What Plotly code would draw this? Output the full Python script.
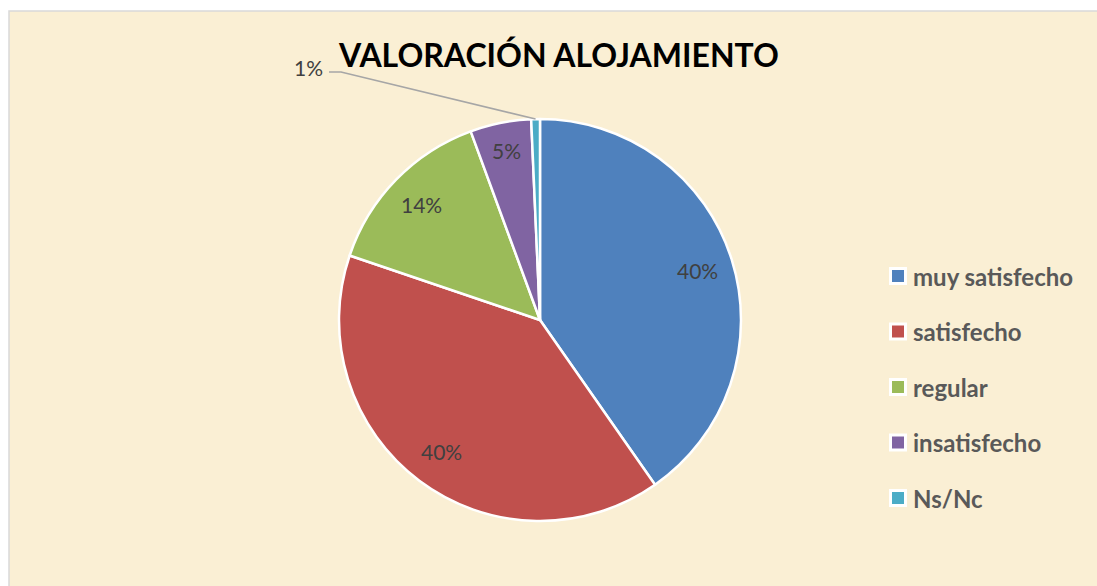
import math
import plotly.graph_objects as go

# ---- data ----
categories = ["muy satisfecho", "satisfecho", "regular", "insatisfecho", "Ns/Nc"]
values = [40.3, 39.9, 14.2, 4.9, 0.7]
colors = ["#4F81BD", "#C0504D", "#9BBB59", "#8064A2", "#4BACC6"]
title_text = "VALORACIÓN ALOJAMIENTO"

W, H = 1097, 586
CX, CY, R = 540, 320, 201  # pie centre / radius in px


def px(x):
    return x / W


def py(y):
    return 1 - y / H


total = sum(values)
pct_labels = [f"{round(v / total * 100)}%" for v in values]

fig = go.Figure()
fig.add_trace(go.Pie(
    labels=categories,
    values=values,
    sort=False,
    direction="clockwise",
    rotation=0,
    marker=dict(colors=colors, line=dict(color="white", width=2.5)),
    textinfo="none",
    hoverinfo="label+percent",
    showlegend=False,
    domain=dict(x=[px(CX - R), px(CX + R)], y=[py(CY + R), py(CY - R)]),
))

annotations = []
shapes = []

# background panel
shapes.append(dict(type="rect", xref="paper", yref="paper",
                   x0=px(9), x1=px(W + 5), y0=py(H + 5), y1=py(11),
                   fillcolor="#FAEFD4", line=dict(color="#D9D9D9", width=1.5),
                   layer="below"))

# title
annotations.append(dict(text=f"<b>{title_text}</b>", x=px(558), y=py(55),
                        xref="paper", yref="paper", showarrow=False,
                        xanchor="center", yanchor="middle",
                        font=dict(family="Lato", size=32, color="#000000")))

# percentage labels
cum = 0.0
for i, v in enumerate(values):
    mid = (cum + v / 2) / total * 2 * math.pi
    cum += v
    if i == len(values) - 1:
        # outside label with leader line
        ex = CX + R * math.sin(mid)
        ey = CY - R * math.cos(mid)
        shapes.append(dict(type="path", xref="paper", yref="paper",
                           path=f"M {px(329)},{py(72)} L {px(341)},{py(72)} L {px(ex)},{py(ey)}",
                           line=dict(color="#A6A6A6", width=1.5)))
        annotations.append(dict(text=pct_labels[i], x=px(325), y=py(68),
                                xref="paper", yref="paper", showarrow=False,
                                xanchor="right", yanchor="middle",
                                font=dict(family="Lato", size=21, color="#404040")))
        continue
    rf = 0.82 if v > 10 else 0.86
    lx = CX + R * rf * math.sin(mid)
    ly = CY - R * rf * math.cos(mid)
    annotations.append(dict(text=pct_labels[i], x=px(lx), y=py(ly),
                            xref="paper", yref="paper", showarrow=False,
                            xanchor="center", yanchor="middle",
                            font=dict(family="Lato", size=21, color="#404040")))

# legend (manual)
for i, (cat, col) in enumerate(zip(categories, colors)):
    yc = 276 + i * 55.5
    shapes.append(dict(type="rect", xref="paper", yref="paper",
                       x0=px(889), x1=px(907), y0=py(yc + 9), y1=py(yc - 9),
                       fillcolor="white", line=dict(width=0)))
    shapes.append(dict(type="rect", xref="paper", yref="paper",
                       x0=px(892), x1=px(904), y0=py(yc + 6), y1=py(yc - 6),
                       fillcolor=col, line=dict(width=0)))
    annotations.append(dict(text=f"<b>{cat}</b>", x=px(911), y=py(yc),
                            xref="paper", yref="paper", showarrow=False,
                            xanchor="left", yanchor="middle",
                            font=dict(family="Lato", size=24, color="#595959")))

fig.update_layout(
    width=W, height=H,
    margin=dict(l=0, r=0, t=0, b=0),
    paper_bgcolor="white",
    plot_bgcolor="white",
    shapes=shapes,
    annotations=annotations,
)

fig.write_html("out.html")
